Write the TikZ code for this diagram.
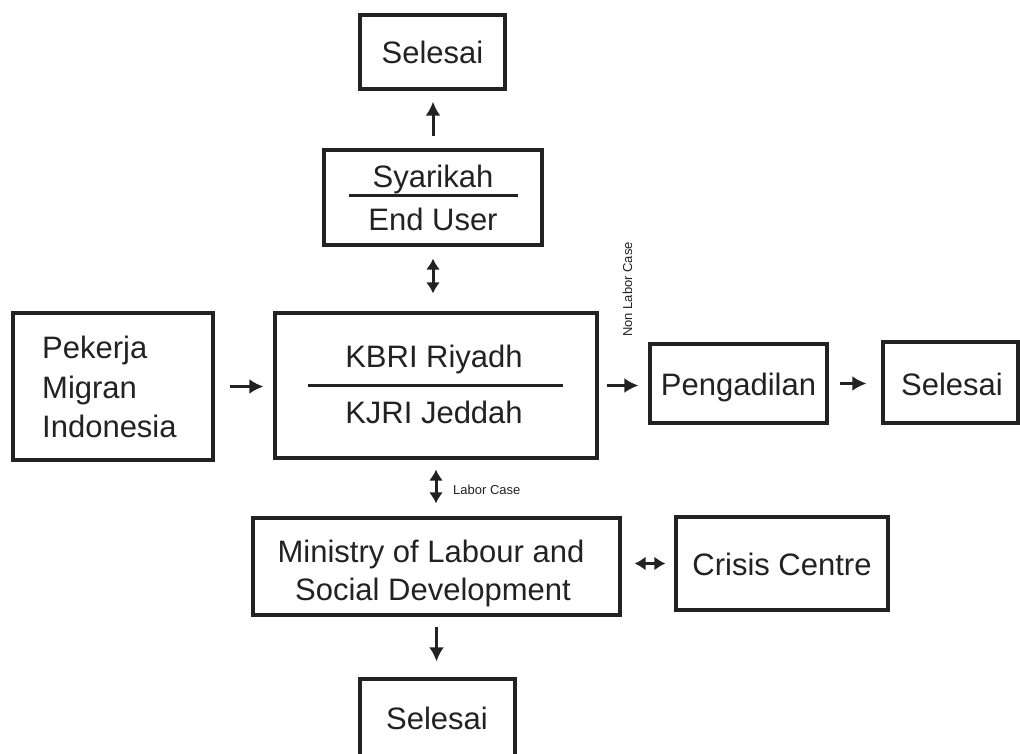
\documentclass[tikz,border=0pt]{standalone}
\usepackage{fontspec}
\setmainfont{Liberation Sans}
\usetikzlibrary{arrows.meta}
\definecolor{ink}{HTML}{222222}
\begin{document}
\begin{tikzpicture}[x=1pt,y=-1pt,
  box/.style={draw=ink, line width=3.2pt, inner sep=0pt},
  txt/.style={text=ink, inner sep=0pt, anchor=base, font=\fontsize{31}{38}\selectfont},
  small/.style={text=ink, inner sep=0pt, font=\fontsize{13}{15}\selectfont},
  arr/.style={draw=ink, line width=3pt, -{Latex[length=14pt,width=15pt]}},
  darr/.style={draw=ink, line width=3pt, {Latex[length=11pt,width=14pt]}-{Latex[length=11pt,width=14pt]}},
  rule/.style={draw=ink, line width=3pt}]
\clip (0,0) rectangle (1020,753);
\fill[white] (0,0) rectangle (1020,753);
% boxes
\node[box, minimum width=145pt, minimum height=74pt] (sel1) at (432.5,52) {};
\node[box, minimum width=218pt, minimum height=95pt] (syar) at (433,197.5) {};
\node[box, minimum width=200pt, minimum height=147pt] (pek) at (113,386.5) {};
\node[box, minimum width=322pt, minimum height=145pt] (kbri) at (436,385.5) {};
\node[box, minimum width=177pt, minimum height=79pt] (peng) at (738.5,383.5) {};
\node[box, minimum width=135pt, minimum height=81pt] (sel2) at (950.5,382.5) {};
\node[box, minimum width=367pt, minimum height=97pt] (min) at (436.5,566.5) {};
\node[box, minimum width=212pt, minimum height=93pt] (cc) at (782,563.5) {};
\node[box, minimum width=155pt, minimum height=92pt] (sel3) at (437.5,725) {};
% texts
\node[txt] (t-sel1) at (432.5,63.5) {Selesai};
\node[txt] (t-syarA) at (433,187) {Syarikah};
\node[txt] (t-syarB) at (433,230) {End User};
\node[txt, anchor=base west] (t-pek1) at (42,358) {Pekerja};
\node[txt, anchor=base west] (t-pek2) at (42,398) {Migran};
\node[txt, anchor=base west] (t-pek3) at (42,437) {Indonesia};
\node[txt] (t-kbriA) at (434,367) {KBRI Riyadh};
\node[txt] (t-kbriB) at (434,423) {KJRI Jeddah};
\node[txt] (t-peng) at (738.5,395) {Pengadilan};
\node[txt] (t-sel2) at (952,395) {Selesai};
\node[txt] (t-minA) at (431,562) {Ministry of Labour and};
\node[txt] (t-minB) at (433,600) {Social Development};
\node[txt] (t-cc) at (782,575) {Crisis Centre};
\node[txt] (t-sel3) at (437,729) {Selesai};
\node[small, rotate=90, anchor=base west] (nlc) at (632,337) {Non Labor Case};
\node[small, anchor=base west] (lc) at (453,494) {Labor Case};
% dividers
\draw[rule] (349,195) -- (518,195);
\draw[rule] (308,385) -- (563,385);
% connectors
\draw[arr, shorten <=12pt, shorten >=11pt] (syar.north) -- (syar.north |- sel1.south);
\draw[darr, shorten <=12pt, shorten >=18pt] (syar.south) -- (syar.south |- kbri.north);
\draw[arr, shorten <=15pt, shorten >=10pt] (pek.east) -- (pek.east -| kbri.west);
\draw[arr, shorten <=8pt, shorten >=10pt] (kbri.east) -- (kbri.east -| peng.west);
\draw[arr, shorten <=11pt, shorten >=15pt] (peng.east) -- (peng.east -| sel2.west);
\draw[darr, shorten <=10pt, shorten >=13pt] (kbri.south) -- (kbri.south |- min.north);
\draw[darr, shorten <=13pt, shorten >=9pt] (min.east |- cc.west) -- (cc.west);
\draw[arr, shorten <=10pt, shorten >=16pt] (min.south) -- (min.south |- sel3.north);
\end{tikzpicture}
\end{document}
